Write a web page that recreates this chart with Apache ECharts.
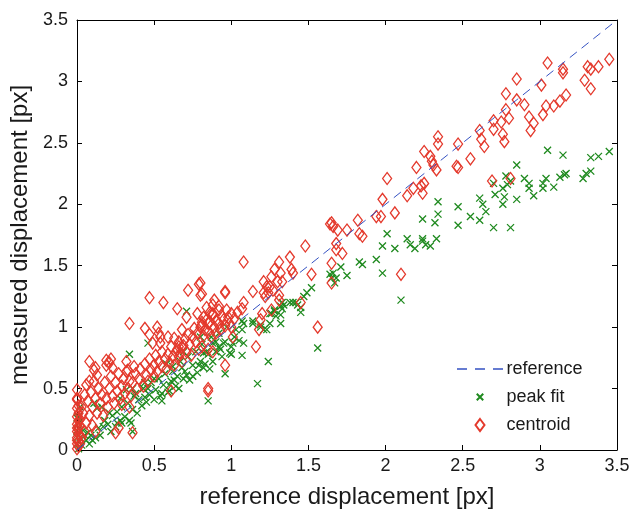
<!DOCTYPE html>
<html>
<head>
<meta charset="utf-8">
<title>measured vs reference displacement</title>
<script src="https://cdn.jsdelivr.net/npm/echarts@6/dist/echarts.min.js"></script>
<style>
    html, body { margin: 0; padding: 0; background: #fff; }
    #chart { width: 630px; height: 509px; }
</style>
</head>
<body>
<div id="chart"></div>
<script>
// axis ticks (both axes share them)
var axisTicks = [0, 0.5, 1, 1.5, 2, 2.5, 3, 3.5];

// y = x line
var referenceLine = [[0, 0], [3.5, 3.5]];

// peak fit estimates [reference, measured]
var peakFit = [
    [3.05, 2.44], [3.15, 2.40], [3.33, 2.38], [3.38, 2.39], [3.45, 2.43], [2.85, 2.32],
    [2.78, 2.23], [2.90, 2.21], [2.93, 2.17], [2.93, 2.13], [2.96, 2.07], [3.02, 2.17],
    [3.02, 2.13], [3.04, 2.21], [3.09, 2.14], [3.13, 2.22], [3.16, 2.24], [3.17, 2.25],
    [3.28, 2.21], [3.30, 2.25], [3.33, 2.27], [2.70, 2.17], [2.76, 2.13], [2.79, 2.16],
    [2.81, 2.19], [2.71, 2.08], [2.77, 2.06], [2.76, 2.00], [2.85, 2.04], [2.61, 2.05],
    [2.63, 2.00], [2.65, 1.94], [2.61, 1.87], [2.70, 1.81], [2.81, 1.81], [2.55, 1.90],
    [2.47, 1.98], [2.47, 1.83], [2.34, 2.02], [2.34, 1.92], [2.32, 1.85], [2.24, 1.88],
    [2.14, 1.72], [2.16, 1.67], [2.19, 1.64], [2.24, 1.72], [2.24, 1.70], [2.26, 1.67],
    [2.29, 1.66], [2.33, 1.72], [2.10, 1.22], [2.01, 1.76], [1.98, 1.66], [2.06, 1.64],
    [1.94, 1.55], [1.98, 1.44], [1.83, 1.53], [1.85, 1.51], [1.75, 1.42], [1.71, 1.49],
    [1.64, 1.43], [1.66, 1.44], [1.65, 1.40], [1.68, 1.40], [1.67, 1.36], [1.52, 1.32],
    [1.49, 1.28], [1.47, 1.25], [1.38, 1.20], [1.42, 1.20], [1.43, 1.18], [1.45, 1.16],
    [1.45, 1.12], [1.33, 1.20], [1.32, 1.17], [1.28, 1.14], [1.26, 1.11], [1.29, 1.09],
    [1.32, 1.03], [1.25, 1.03], [1.56, 0.83], [1.19, 1.00], [1.21, 0.98], [1.23, 0.98],
    [1.14, 1.03], [1.08, 1.03], [1.08, 0.87], [1.07, 0.77], [1.00, 0.78], [1.01, 0.87],
    [0.93, 0.82], [0.92, 0.84], [0.90, 0.88], [0.88, 0.87], [0.84, 0.80], [0.82, 0.79],
    [1.24, 0.72], [1.17, 0.54], [1.02, 0.92], [1.34, 1.18], [1.40, 1.20], [1.25, 1.11],
    [1.28, 1.13], [1.32, 1.10], [1.33, 1.15], [1.07, 1.05], [1.14, 1.05], [1.07, 0.98],
    [1.19, 1.02], [0.71, 1.13], [0.34, 0.78], [0.96, 0.62], [0.85, 0.40], [0.86, 0.66],
    [0.82, 0.67], [0.79, 0.69], [0.75, 0.60], [0.71, 0.61], [0.68, 0.67], [0.62, 0.64],
    [0.60, 0.53], [0.60, 0.48], [0.55, 0.46], [0.63, 0.57], [0.46, 0.50], [0.44, 0.43],
    [0.38, 0.46], [0.32, 0.49], [0.35, 0.22], [0.36, 0.15], [0.29, 0.22], [0.17, 0.19],
    [0.10, 0.08], [0.09, 0.12], [0.05, 0.12], [0.11, 0.38], [0.16, 0.35], [0.13, 0.34],
    [0.02, 0.35], [0.00, 0.26], [0.01, 0.27], [0.46, 0.87], [0.95, 0.87], [0.99, 0.79],
    [0.01, 0.22], [0.00, 0.16], [0.04, 0.16], [0.20, 0.21], [0.22, 0.15], [0.23, 0.28],
    [0.25, 0.19], [0.26, 0.31], [0.28, 0.24], [0.29, 0.35], [0.31, 0.27], [0.33, 0.38],
    [0.34, 0.24], [0.36, 0.33], [0.37, 0.44], [0.39, 0.30], [0.40, 0.41], [0.42, 0.36],
    [0.43, 0.50], [0.45, 0.39], [0.47, 0.45], [0.48, 0.55], [0.50, 0.41], [0.51, 0.49],
    [0.53, 0.58], [0.54, 0.44], [0.56, 0.53], [0.57, 0.62], [0.59, 0.47], [0.61, 0.56],
    [0.62, 0.68], [0.64, 0.52], [0.65, 0.60], [0.67, 0.72], [0.69, 0.58], [0.70, 0.64],
    [0.72, 0.76], [0.73, 0.57], [0.75, 0.69], [0.77, 0.80], [0.78, 0.63], [0.80, 0.72],
    [0.81, 0.86], [0.83, 0.70], [0.85, 0.78], [0.87, 0.92], [0.88, 0.72], [0.90, 0.80],
    [0.92, 0.95], [0.94, 0.76], [0.96, 0.88], [0.97, 1.00], [1.00, 0.84], [1.03, 0.98],
    [1.05, 0.89], [0.15, 0.12], [0.18, 0.24], [0.12, 0.10], [0.08, 0.05], [0.06, 0.08],
    [0.03, 0.04], [0.02, 0.10], [0.00, 0.05], [0.00, 0.10], [0.01, 0.01], [0.14, 0.18],
    [0.07, 0.14], [0.21, 0.30], [0.26, 0.22], [0.50, 0.58], [0.58, 0.70], [0.69, 0.80],
    [0.80, 0.92], [0.44, 0.55], [0.36, 0.50], [0.28, 0.42], [0.55, 0.40], [0.66, 0.50]
];

// centroid estimates [reference, measured]
var centroid = [
    [3.05, 3.15], [2.85, 3.02], [3.15, 3.10], [3.15, 3.07], [3.01, 2.97], [3.31, 3.12],
    [3.33, 3.10], [3.38, 3.12], [3.45, 3.18], [3.29, 3.01], [3.33, 2.94], [2.78, 2.90],
    [2.85, 2.85], [2.90, 2.81], [2.78, 2.77], [2.80, 2.70], [3.04, 2.80], [3.09, 2.80],
    [3.13, 2.84], [3.17, 2.89], [3.02, 2.73], [2.93, 2.71], [2.96, 2.66], [2.94, 2.60],
    [2.70, 2.68], [2.75, 2.67], [2.70, 2.61], [2.76, 2.57], [2.77, 2.51], [2.61, 2.60],
    [2.62, 2.53], [2.64, 2.47], [2.34, 2.55], [2.34, 2.49], [2.47, 2.49], [2.55, 2.37],
    [2.46, 2.31], [2.25, 2.43], [2.29, 2.39], [2.31, 2.32], [2.30, 2.35], [2.33, 2.28],
    [2.20, 2.30], [2.47, 2.30], [2.14, 2.07], [2.18, 2.13], [2.23, 2.15], [2.24, 2.09],
    [2.25, 2.17], [2.69, 2.19], [2.81, 2.21], [2.10, 1.43], [2.01, 2.21], [1.98, 2.04],
    [1.82, 1.87], [1.94, 1.90], [1.97, 1.90], [2.06, 1.93], [1.83, 1.76], [1.85, 1.74],
    [1.65, 1.85], [1.66, 1.82], [1.64, 1.84], [1.75, 1.79], [1.69, 1.79], [1.68, 1.68],
    [1.68, 1.63], [1.72, 1.60], [1.48, 1.66], [1.65, 1.52], [1.65, 1.36], [1.52, 1.43],
    [1.38, 1.57], [1.31, 1.53], [1.28, 1.47], [1.26, 1.41], [1.32, 1.44], [1.33, 1.37],
    [1.30, 1.37], [1.39, 1.47], [1.40, 1.44], [1.08, 1.53], [1.14, 1.29], [1.21, 1.37],
    [1.23, 1.33], [1.21, 1.28], [1.22, 1.25], [1.25, 1.33], [1.24, 1.28], [1.27, 1.30],
    [1.31, 1.26], [1.31, 1.22], [1.45, 1.20], [1.56, 1.00], [1.16, 0.84], [1.08, 1.20],
    [1.07, 1.15], [0.96, 1.29], [0.96, 1.28], [0.82, 1.08], [0.86, 1.12], [0.84, 1.16],
    [0.88, 1.10], [0.90, 1.05], [0.85, 1.03], [0.92, 1.14], [0.80, 1.36], [0.80, 1.26],
    [1.00, 1.11], [1.01, 0.92], [1.20, 1.11], [1.19, 1.06], [1.18, 0.98], [1.26, 1.14],
    [0.47, 1.24], [0.56, 1.20], [0.65, 1.15], [0.72, 1.30], [0.79, 1.35], [0.81, 1.27],
    [0.89, 1.22], [0.88, 1.18], [0.34, 1.03], [0.44, 0.99], [0.47, 0.94], [0.52, 1.00],
    [0.53, 0.95], [0.59, 0.92], [0.63, 0.91], [0.68, 0.98], [0.66, 0.84], [0.85, 0.96],
    [0.81, 0.84], [0.85, 0.82], [0.88, 0.80], [0.71, 1.08], [0.78, 1.11], [0.81, 1.04],
    [0.81, 1.02], [0.84, 1.06], [0.88, 1.11], [0.92, 1.17], [0.95, 1.06], [0.97, 1.14],
    [0.99, 1.03], [0.54, 0.92], [0.54, 0.87], [0.49, 0.87], [0.65, 0.82], [0.68, 0.84],
    [0.66, 0.76], [0.96, 0.69], [0.85, 0.50], [0.85, 0.48], [0.61, 0.48], [0.36, 0.14],
    [0.27, 0.18], [0.29, 0.37], [0.34, 0.35], [0.25, 0.14], [0.36, 0.55], [0.38, 0.62],
    [0.40, 0.58], [0.41, 0.66], [0.43, 0.52], [0.44, 0.70], [0.45, 0.61], [0.46, 0.56],
    [0.47, 0.74], [0.48, 0.65], [0.50, 0.69], [0.50, 0.60], [0.51, 0.77], [0.52, 0.64],
    [0.53, 0.72], [0.55, 0.68], [0.55, 0.80], [0.57, 0.74], [0.58, 0.66], [0.59, 0.78],
    [0.60, 0.71], [0.61, 0.84], [0.62, 0.76], [0.63, 0.69], [0.64, 0.80], [0.66, 0.88],
    [0.67, 0.79], [0.68, 0.72], [0.69, 0.85], [0.70, 0.90], [0.71, 0.80], [0.72, 0.94],
    [0.73, 0.86], [0.74, 0.77], [0.75, 0.92], [0.76, 0.99], [0.77, 0.88], [0.78, 0.95],
    [0.79, 0.82], [0.80, 1.00], [0.82, 0.93], [0.83, 0.98], [0.86, 1.04], [0.87, 0.92],
    [0.89, 1.00], [0.90, 0.95], [0.92, 1.03], [0.93, 0.98], [0.94, 1.09], [0.96, 1.01],
    [0.98, 1.08], [1.00, 1.00], [1.02, 1.07], [1.04, 1.12], [0.08, 0.72], [0.11, 0.65],
    [0.08, 0.56], [0.12, 0.67], [0.13, 0.61], [0.11, 0.56], [0.06, 0.53], [0.22, 0.74],
    [0.19, 0.69], [0.23, 0.67], [0.19, 0.73], [0.21, 0.71], [0.32, 0.72], [0.33, 0.65],
    [0.05, 0.45], [0.07, 0.40], [0.09, 0.47], [0.10, 0.35], [0.12, 0.42], [0.13, 0.30],
    [0.14, 0.50], [0.15, 0.38], [0.16, 0.45], [0.17, 0.28], [0.18, 0.55], [0.19, 0.42],
    [0.20, 0.35], [0.21, 0.50], [0.22, 0.60], [0.23, 0.44], [0.24, 0.38], [0.25, 0.55],
    [0.26, 0.48], [0.27, 0.62], [0.28, 0.42], [0.29, 0.52], [0.30, 0.58], [0.31, 0.46],
    [0.32, 0.64], [0.33, 0.50], [0.34, 0.56], [0.35, 0.44], [0.37, 0.68], [0.39, 0.50],
    [0.04, 0.30], [0.06, 0.22], [0.08, 0.28], [0.10, 0.20], [0.12, 0.15], [0.05, 0.15],
    [0.03, 0.35], [0.02, 0.25], [0.00, 0.41], [0.00, 0.34], [0.00, 0.49], [0.00, 0.42],
    [0.01, 0.30], [0.00, 0.27], [0.01, 0.24], [0.00, 0.21], [0.01, 0.18], [0.00, 0.15],
    [0.02, 0.12], [0.00, 0.10], [0.01, 0.07], [0.00, 0.05], [0.01, 0.03], [0.00, 0.01],
    [0.02, 0.20], [0.03, 0.10], [0.02, 0.05], [0.00, 0.18], [0.01, 0.13], [0.00, 0.08],
    [0.01, 0.36]
];

var font = '"Liberation Sans", Arial, Helvetica, sans-serif';
var ink = '#1a1a1a';
var red = '#e4392c',
    green = '#1f8a1f',
    blue = '#3552c2';

// marker shapes; the legend icons are padded so they stay small like the plot markers
var crossPath = 'path://M0,0L10,10M10,0L0,10';
var crossIcon = 'path://M-3,-3M0,0L7,7M7,0L0,7M10,10';
var diamondIcon = 'path://M4.5,0L9,6L4.5,12L0,6Z';
// three dashes for the reference line entry
var dashIcon = 'path://M0,-6M0,-0.7L10,-0.7L10,0.7L0,0.7ZM18,-0.7L28,-0.7L28,0.7L18,0.7Z' +
    'M36,-0.7L46,-0.7L46,0.7L36,0.7ZM46,6';

function frameAxis(position, showLabel) {
    return {
        type: 'value',
        position: position,
        min: axisTicks[0],
        max: axisTicks[axisTicks.length - 1],
        interval: axisTicks[1] - axisTicks[0],
        axisLine: { show: true, onZero: false, lineStyle: { color: '#000', width: 1 } },
        axisTick: { show: true, inside: true, length: 5, lineStyle: { color: '#000', width: 1 } },
        splitLine: { show: false },
        axisLabel: {
            show: showLabel,
            fontSize: 18,
            fontFamily: font,
            color: ink,
            margin: 7,
            showMinLabel: true,
            showMaxLabel: true
        }
    };
}

var xBottom = frameAxis('bottom', true);
xBottom.name = 'reference displacement [px]';
xBottom.nameLocation = 'middle';
xBottom.nameGap = 35;
xBottom.nameTextStyle = { fontSize: 24, fontFamily: font, color: ink };

var yLeft = frameAxis('left', true);
yLeft.axisLabel.margin = 9;
yLeft.name = 'measured displacement [px]';
yLeft.nameLocation = 'middle';
yLeft.nameGap = 42;
yLeft.nameTextStyle = { fontSize: 24, fontFamily: font, color: ink };

var myChart = echarts.init(document.getElementById('chart'), null, { renderer: 'canvas' });

var option = {
    backgroundColor: '#fff',
    animation: false,
    grid: {
        left: 77,
        right: 13,
        top: 20,
        bottom: 59,
        containLabel: false,
        outerBoundsMode: 'none'
    },
    xAxis: [xBottom, frameAxis('top', false)],
    yAxis: [yLeft, frameAxis('right', false)],
    legend: {
        orient: 'vertical',
        left: 452,
        top: 355,
        itemWidth: 47,
        itemHeight: 12,
        itemGap: 10,
        textStyle: { fontSize: 18, fontFamily: font, color: ink, padding: [0, 0, 0, -2] },
        data: [
            { name: 'reference', icon: dashIcon },
            { name: 'peak fit', icon: crossIcon },
            { name: 'centroid', icon: diamondIcon }
        ]
    },
    series: [{
        name: 'reference',
        type: 'line',
        data: referenceLine,
        symbol: 'none',
        silent: true,
        lineStyle: { color: blue, width: 1, type: [9, 6] },
        itemStyle: { color: blue }
    }, {
        name: 'peak fit',
        type: 'scatter',
        data: peakFit,
        symbol: crossPath,
        symbolSize: 7,
        itemStyle: { color: 'none', borderColor: green, borderWidth: 1.3, opacity: 1 }
    }, {
        name: 'centroid',
        type: 'scatter',
        data: centroid,
        symbol: 'diamond',
        symbolSize: [9, 12],
        itemStyle: { color: 'none', borderColor: red, borderWidth: 1.3, opacity: 1 }
    }]
};
myChart.setOption(option);
</script>
</body>
</html>
